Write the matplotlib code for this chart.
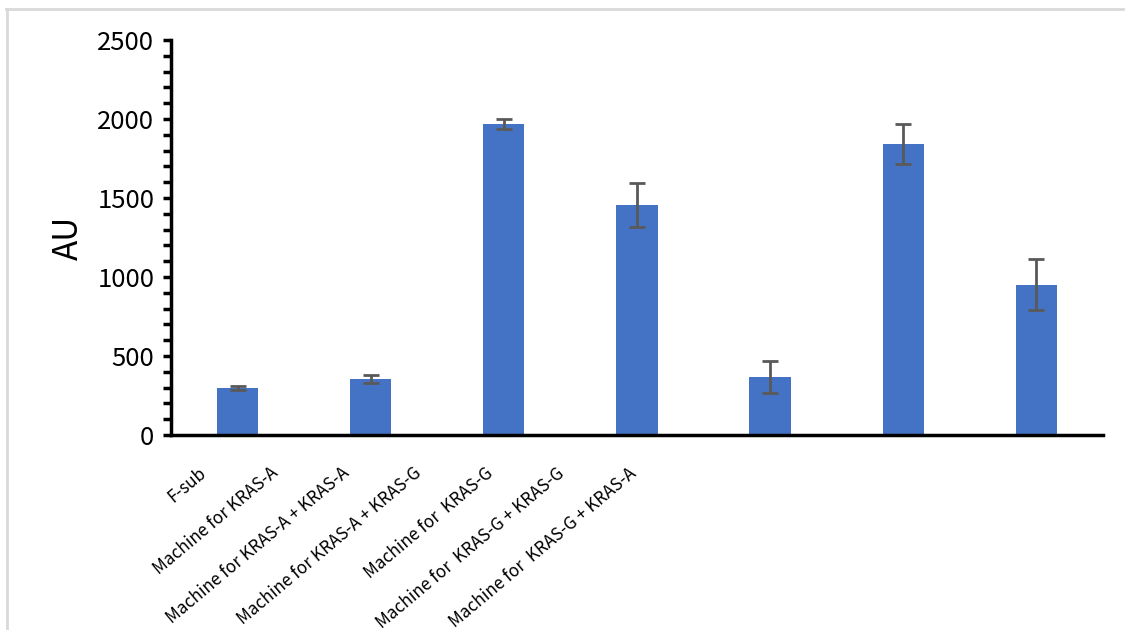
import matplotlib
matplotlib.use("Agg")
import matplotlib.pyplot as plt
from matplotlib.lines import Line2D
import numpy as np

categories = [
    "F-sub",
    "Machine for KRAS-A",
    "Machine for KRAS-A + KRAS-A",
    "Machine for KRAS-A + KRAS-G",
    "Machine for  KRAS-G",
    "Machine for  KRAS-G + KRAS-G",
    "Machine for  KRAS-G + KRAS-A",
]
values = [300, 355, 1968, 1457, 368, 1840, 952]
errors = [12, 25, 30, 140, 100, 127, 160]
y_ticks = [0, 500, 1000, 1500, 2000, 2500]

plt.rcParams["font.family"] = ["Noto Sans CJK SC", "DejaVu Sans"]

fig = plt.figure(figsize=(11.25, 6.3), dpi=100)
ax = fig.add_axes([0.152, 0.3095, 0.8284, 0.627])

x = np.arange(len(categories))
ax.bar(x, values, width=0.31, color="#4472C4", zorder=2)
ax.errorbar(x, values, yerr=errors, fmt="none", ecolor="#595959",
            elinewidth=2, capsize=6, capthick=2, zorder=3)

ax.set_xlim(-0.5, len(categories) - 0.5)
ax.set_ylim(0, 2500)
ax.set_yticks(y_ticks)
ax.set_yticklabels([str(t) for t in y_ticks], fontsize=18.5)
ax.yaxis.set_minor_locator(matplotlib.ticker.MultipleLocator(100))
ax.tick_params(axis="y", which="both", direction="out", length=6, width=2.5,
               color="black", pad=6)
ax.tick_params(axis="x", length=0, labelbottom=False)
ax.set_ylabel("AU", fontsize=24, labelpad=8)

for side in ("top", "right"):
    ax.spines[side].set_visible(False)
ax.spines["left"].set_linewidth(2.5)
ax.spines["bottom"].set_linewidth(2.5)

# Category labels, slanted and packed toward the left
for i, label in enumerate(categories):
    fx = (198 + i * 71.7) / 1125
    fig.text(fx, 1 - 464 / 630, label, rotation=40, rotation_mode="anchor",
             ha="right", va="top", fontsize=12.3)

# Light frame around the chart area
fig.add_artist(Line2D([6 / 1125, 1], [1 - 9 / 630, 1 - 9 / 630],
                      transform=fig.transFigure, color="#d9d9d9", lw=2))
fig.add_artist(Line2D([7 / 1125, 7 / 1125], [0, 1 - 9 / 630],
                      transform=fig.transFigure, color="#d9d9d9", lw=2))

fig.savefig("out.png", dpi=100)
